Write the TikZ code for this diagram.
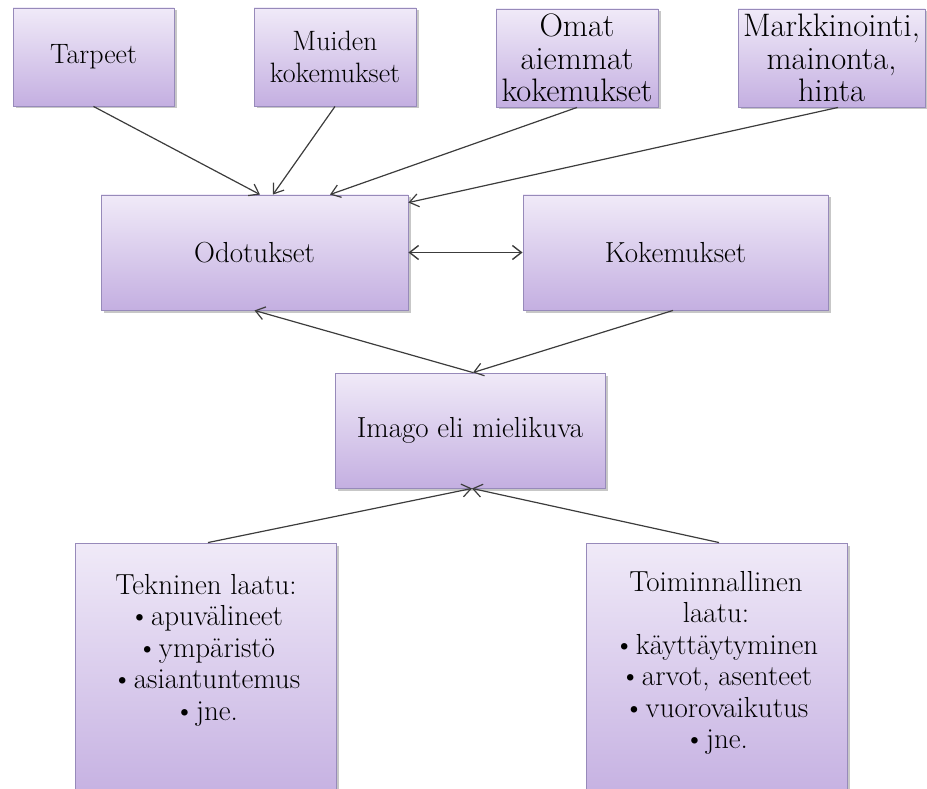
\documentclass[tikz,border=0pt]{standalone}
\usepackage{fontspec}
\usetikzlibrary{arrows.meta,shadows}
\definecolor{boxtop}{HTML}{F0EAF8}
\definecolor{boxbot}{HTML}{C4AFE1}
\definecolor{boxedge}{HTML}{978ABA}
\definecolor{arrowcol}{HTML}{3C3C3C}
\newcommand{\bul}{•\kern0.04em}
\tikzset{
  pbox/.style={rectangle, inner sep=0pt, draw=boxedge, line width=0.9pt,
    top color=boxtop, bottom color=boxbot, align=center,
    drop shadow={shadow xshift=2.5pt, shadow yshift=-2.5pt, fill=black, opacity=0.22},
    font=\rmfamily\fontsize{29}{31.5}\selectfont},
  smalltext/.style={font=\rmfamily\fontsize{28}{32}\selectfont},
  bigtext/.style={font=\rmfamily\fontsize{32.5}{32.5}\selectfont},
  btext/.style={inner sep=0pt, align=center, anchor=north, font=\rmfamily\fontsize{29}{31.5}\selectfont},
  conn/.style={draw=arrowcol, line width=1.2pt, -{Straight Barb[length=9pt,width=13pt,line width=1.2pt]}},
  dconn/.style={draw=arrowcol, line width=1.7pt, {Straight Barb[length=9pt,width=14pt,line width=1.4pt]}-{Straight Barb[length=9pt,width=14pt,line width=1.4pt]}}
}
\begin{document}
\begin{tikzpicture}[x=1pt,y=-1pt]
\useasboundingbox (0,0) rectangle (927,789);
\clip (0,0) rectangle (927,789);
% top row
\node[pbox, smalltext, minimum width=161pt, minimum height=98pt] (tarpeet) at (93.5,57) {Tarpeet};
\node[pbox, smalltext, minimum width=162pt, minimum height=98pt] (muiden) at (335,57) {Muiden\\kokemukset};
\node[pbox, bigtext, minimum width=162pt, minimum height=98pt] (omat) at (577,58) {Omat\\aiemmat\\kokemukset};
\node[pbox, bigtext, minimum width=187pt, minimum height=98pt] (mark) at (831.5,58) {Markkinointi,\\mainonta,\\hinta};
% middle row
\node[pbox, minimum width=307pt, minimum height=115pt] (odot) at (254.5,252.5) {Odotukset};
\node[pbox, minimum width=305pt, minimum height=115pt] (koke) at (675.5,252.5) {Kokemukset};
\node[pbox, minimum width=270pt, minimum height=115pt] (imago) at (470,430.5) {Imago eli mielikuva};
% bottom row
\node[pbox, minimum width=261pt, minimum height=262pt] (tek) at (205.5,674) {};
\node[pbox, minimum width=261pt, minimum height=262pt] (toim) at (716.5,674) {};
\node[btext] (tektext) at (206,574) {Tekninen laatu:\\\bul apuvälineet\\\bul ympäristö\\\bul asiantuntemus\\\bul jne.};
\node[btext] (toimtext) at (716,571) {Toiminnallinen\\laatu:\\\bul käyttäytyminen\\\bul arvot, asenteet\\\bul vuorovaikutus\\\bul jne.};
% connectors
\draw[conn] (tarpeet.south) -- ([xshift=5.5pt]odot.north);
\draw[conn] (muiden.south) -- ([xshift=18.5pt]odot.north);
\draw[conn] (omat.south) -- ([xshift=75.5pt]odot.north);
\draw[conn] ([xshift=6.5pt]mark.south) -- ([yshift=-8pt]odot.north east);
\draw[dconn] (odot.east) -- (koke.west);
\draw[conn] ([xshift=3pt]imago.north) -- (odot.south);
\draw[conn] ([xshift=-2.5pt]koke.south) -- ([xshift=3pt]imago.north);
\draw[conn] ([xshift=2.5pt]tek.north) -- ([xshift=2pt]imago.south);
\draw[conn] ([xshift=2.5pt]toim.north) -- ([xshift=2pt]imago.south);
\end{tikzpicture}
\end{document}
